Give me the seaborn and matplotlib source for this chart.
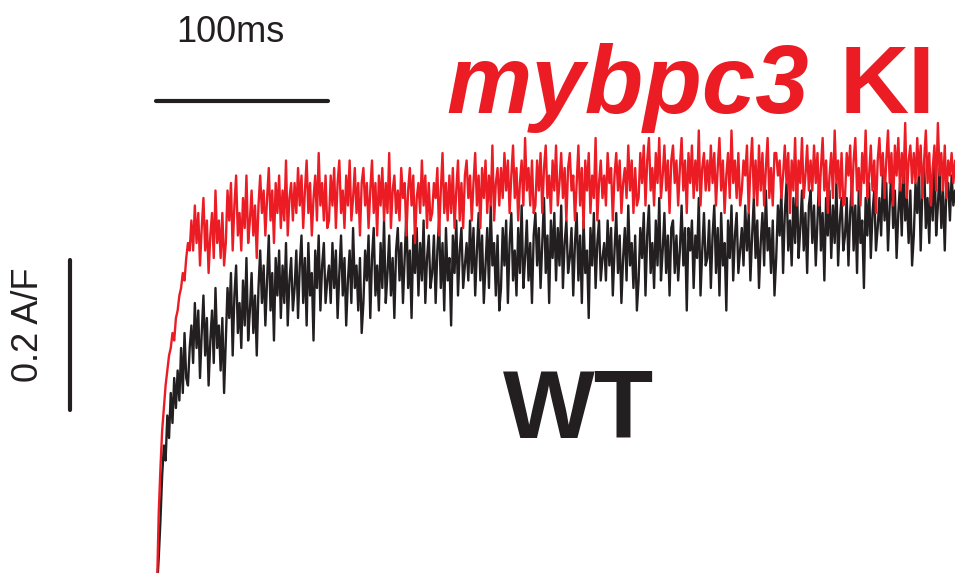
import numpy as np
import pandas as pd
import matplotlib
matplotlib.use("Agg")
import matplotlib.pyplot as plt
import seaborn as sns

# ---- data (A/F), sampled every 1 ms ----
sample_interval_ms = 1.0

ki_trace = [
    -0.02, 0.08, 0.14, 0.19, 0.22, 0.25, 0.27, 0.29, 0.30, 0.32, 0.31, 0.34, 0.35, 0.37, 0.38, 0.40, 0.39, 0.42, 0.44, 0.43,
    0.47, 0.43, 0.49, 0.44, 0.48, 0.41, 0.46, 0.50, 0.43, 0.47, 0.40, 0.45, 0.48, 0.42, 0.51, 0.44, 0.47, 0.42, 0.48, 0.41,
    0.44, 0.51, 0.47, 0.52, 0.43, 0.49, 0.53, 0.45, 0.48, 0.43, 0.50, 0.46, 0.53, 0.44, 0.47, 0.51, 0.45, 0.49, 0.42, 0.49,
    0.53, 0.48, 0.51, 0.45, 0.50, 0.54, 0.47, 0.51, 0.44, 0.52, 0.48, 0.53, 0.46, 0.51, 0.47, 0.55, 0.45, 0.50, 0.52, 0.47,
    0.52, 0.48, 0.54, 0.49, 0.53, 0.46, 0.51, 0.55, 0.48, 0.52, 0.45, 0.50, 0.53, 0.47, 0.56, 0.49, 0.52, 0.47, 0.53, 0.46,
    0.47, 0.53, 0.49, 0.54, 0.46, 0.52, 0.55, 0.48, 0.51, 0.46, 0.53, 0.49, 0.55, 0.47, 0.50, 0.54, 0.48, 0.52, 0.45, 0.52,
    0.54, 0.49, 0.52, 0.46, 0.51, 0.55, 0.48, 0.52, 0.45, 0.53, 0.49, 0.54, 0.47, 0.52, 0.48, 0.56, 0.46, 0.51, 0.53, 0.48,
    0.51, 0.47, 0.54, 0.50, 0.52, 0.45, 0.51, 0.54, 0.49, 0.53, 0.44, 0.50, 0.52, 0.48, 0.55, 0.49, 0.53, 0.46, 0.52, 0.47,
    0.48, 0.52, 0.50, 0.54, 0.45, 0.51, 0.56, 0.48, 0.52, 0.47, 0.53, 0.48, 0.54, 0.46, 0.51, 0.55, 0.47, 0.52, 0.46, 0.53,
    0.55, 0.50, 0.53, 0.47, 0.52, 0.56, 0.49, 0.53, 0.46, 0.54, 0.50, 0.55, 0.48, 0.53, 0.49, 0.57, 0.47, 0.52, 0.54, 0.49,
    0.54, 0.50, 0.56, 0.51, 0.55, 0.48, 0.53, 0.57, 0.50, 0.54, 0.47, 0.52, 0.55, 0.49, 0.58, 0.51, 0.54, 0.49, 0.55, 0.48,
    0.49, 0.55, 0.51, 0.56, 0.48, 0.54, 0.57, 0.50, 0.53, 0.48, 0.55, 0.51, 0.57, 0.49, 0.52, 0.56, 0.50, 0.54, 0.47, 0.54,
    0.56, 0.51, 0.53, 0.47, 0.52, 0.57, 0.49, 0.54, 0.46, 0.55, 0.51, 0.56, 0.48, 0.53, 0.50, 0.58, 0.47, 0.52, 0.55, 0.50,
    0.53, 0.49, 0.56, 0.52, 0.54, 0.47, 0.53, 0.56, 0.51, 0.55, 0.48, 0.52, 0.54, 0.50, 0.57, 0.51, 0.55, 0.48, 0.54, 0.49,
    0.50, 0.56, 0.52, 0.57, 0.49, 0.55, 0.58, 0.51, 0.54, 0.49, 0.56, 0.52, 0.58, 0.50, 0.53, 0.57, 0.51, 0.55, 0.48, 0.55,
    0.57, 0.52, 0.55, 0.49, 0.54, 0.58, 0.51, 0.55, 0.48, 0.56, 0.52, 0.57, 0.50, 0.55, 0.51, 0.59, 0.49, 0.54, 0.56, 0.51,
    0.55, 0.51, 0.57, 0.52, 0.56, 0.49, 0.54, 0.58, 0.51, 0.55, 0.48, 0.53, 0.56, 0.50, 0.59, 0.52, 0.55, 0.50, 0.56, 0.49,
    0.51, 0.55, 0.53, 0.57, 0.48, 0.54, 0.58, 0.50, 0.55, 0.49, 0.57, 0.51, 0.56, 0.49, 0.54, 0.58, 0.50, 0.54, 0.49, 0.56,
    0.56, 0.53, 0.55, 0.50, 0.53, 0.57, 0.52, 0.56, 0.48, 0.55, 0.51, 0.58, 0.49, 0.55, 0.52, 0.58, 0.50, 0.53, 0.57, 0.51,
    0.55, 0.51, 0.57, 0.52, 0.56, 0.49, 0.54, 0.58, 0.51, 0.55, 0.48, 0.53, 0.56, 0.50, 0.59, 0.52, 0.55, 0.50, 0.56, 0.49,
    0.50, 0.56, 0.53, 0.57, 0.49, 0.55, 0.58, 0.51, 0.54, 0.49, 0.56, 0.52, 0.59, 0.50, 0.53, 0.57, 0.51, 0.55, 0.48, 0.55,
    0.58, 0.53, 0.56, 0.50, 0.55, 0.59, 0.52, 0.56, 0.49, 0.57, 0.53, 0.58, 0.51, 0.56, 0.52, 0.60, 0.50, 0.55, 0.57, 0.52,
    0.56, 0.52, 0.58, 0.53, 0.57, 0.50, 0.55, 0.59, 0.52, 0.56, 0.49, 0.54, 0.57, 0.51, 0.60, 0.53, 0.56, 0.51, 0.57, 0.50,
    0.55, 0.53, 0.56, 0.52, 0.55,
]

wt_trace = [
    -0.02, 0.02, 0.07, 0.13, 0.17, 0.15, 0.21, 0.18, 0.24, 0.20, 0.26, 0.22, 0.27, 0.23, 0.30, 0.24, 0.32, 0.26, 0.25, 0.30,
    0.33, 0.28, 0.36, 0.30, 0.35, 0.26, 0.32, 0.37, 0.29, 0.34, 0.25, 0.31, 0.35, 0.28, 0.38, 0.30, 0.33, 0.27, 0.34, 0.24,
    0.31, 0.38, 0.34, 0.40, 0.29, 0.37, 0.41, 0.32, 0.36, 0.30, 0.39, 0.33, 0.42, 0.31, 0.35, 0.40, 0.32, 0.37, 0.29, 0.38,
    0.43, 0.36, 0.41, 0.33, 0.39, 0.45, 0.35, 0.40, 0.31, 0.42, 0.37, 0.43, 0.34, 0.41, 0.36, 0.44, 0.33, 0.39, 0.42, 0.35,
    0.38, 0.43, 0.34, 0.41, 0.45, 0.36, 0.42, 0.33, 0.44, 0.37, 0.40, 0.31, 0.43, 0.38, 0.45, 0.35, 0.41, 0.44, 0.36, 0.39,
    0.41, 0.36, 0.44, 0.38, 0.43, 0.34, 0.40, 0.45, 0.37, 0.42, 0.33, 0.39, 0.43, 0.36, 0.46, 0.38, 0.41, 0.35, 0.42, 0.32,
    0.36, 0.43, 0.39, 0.45, 0.34, 0.42, 0.46, 0.37, 0.41, 0.35, 0.44, 0.38, 0.47, 0.36, 0.40, 0.45, 0.37, 0.42, 0.34, 0.43,
    0.46, 0.39, 0.44, 0.36, 0.42, 0.48, 0.38, 0.43, 0.34, 0.45, 0.40, 0.46, 0.37, 0.44, 0.39, 0.47, 0.36, 0.42, 0.45, 0.38,
    0.40, 0.45, 0.36, 0.43, 0.47, 0.38, 0.44, 0.35, 0.46, 0.39, 0.42, 0.33, 0.45, 0.40, 0.47, 0.37, 0.43, 0.46, 0.38, 0.41,
    0.44, 0.39, 0.47, 0.40, 0.46, 0.37, 0.43, 0.48, 0.39, 0.45, 0.36, 0.41, 0.46, 0.38, 0.49, 0.41, 0.44, 0.37, 0.45, 0.35,
    0.38, 0.46, 0.41, 0.47, 0.36, 0.44, 0.48, 0.39, 0.43, 0.37, 0.46, 0.40, 0.49, 0.38, 0.42, 0.47, 0.39, 0.44, 0.36, 0.45,
    0.48, 0.41, 0.46, 0.38, 0.44, 0.50, 0.40, 0.45, 0.36, 0.47, 0.42, 0.48, 0.39, 0.46, 0.41, 0.49, 0.38, 0.44, 0.47, 0.40,
    0.42, 0.46, 0.37, 0.44, 0.48, 0.39, 0.45, 0.36, 0.47, 0.40, 0.43, 0.34, 0.46, 0.41, 0.48, 0.38, 0.44, 0.47, 0.39, 0.42,
    0.44, 0.39, 0.47, 0.41, 0.46, 0.37, 0.43, 0.48, 0.40, 0.45, 0.36, 0.42, 0.46, 0.39, 0.49, 0.41, 0.44, 0.38, 0.45, 0.35,
    0.39, 0.46, 0.42, 0.48, 0.37, 0.45, 0.49, 0.40, 0.44, 0.38, 0.47, 0.41, 0.50, 0.39, 0.43, 0.48, 0.40, 0.45, 0.37, 0.46,
    0.47, 0.40, 0.45, 0.39, 0.43, 0.49, 0.41, 0.46, 0.35, 0.46, 0.43, 0.47, 0.38, 0.45, 0.42, 0.50, 0.37, 0.43, 0.48, 0.41,
    0.42, 0.47, 0.38, 0.45, 0.49, 0.40, 0.46, 0.37, 0.48, 0.41, 0.44, 0.35, 0.47, 0.42, 0.49, 0.39, 0.45, 0.48, 0.40, 0.43,
    0.46, 0.41, 0.49, 0.43, 0.48, 0.39, 0.45, 0.50, 0.42, 0.47, 0.38, 0.44, 0.48, 0.41, 0.51, 0.43, 0.46, 0.40, 0.47, 0.37,
    0.42, 0.49, 0.45, 0.51, 0.40, 0.48, 0.52, 0.43, 0.47, 0.41, 0.50, 0.44, 0.53, 0.42, 0.46, 0.51, 0.43, 0.48, 0.40, 0.49,
    0.51, 0.44, 0.49, 0.41, 0.47, 0.53, 0.43, 0.48, 0.39, 0.50, 0.45, 0.51, 0.42, 0.49, 0.44, 0.52, 0.41, 0.47, 0.50, 0.43,
    0.45, 0.50, 0.41, 0.48, 0.52, 0.43, 0.49, 0.40, 0.51, 0.44, 0.47, 0.38, 0.50, 0.45, 0.52, 0.42, 0.48, 0.51, 0.43, 0.46,
    0.50, 0.45, 0.53, 0.47, 0.52, 0.43, 0.49, 0.54, 0.46, 0.51, 0.42, 0.48, 0.52, 0.45, 0.55, 0.47, 0.50, 0.44, 0.51, 0.41,
    0.45, 0.52, 0.48, 0.54, 0.43, 0.51, 0.55, 0.46, 0.50, 0.44, 0.53, 0.47, 0.56, 0.45, 0.49, 0.54, 0.46, 0.51, 0.43, 0.52,
    0.52, 0.47, 0.53, 0.49, 0.51,
]

group_labels = ["mybpc3 KI", "WT"]
group_colors = ["#ec1c24", "#231f20"]

scale_time_ms = 100
scale_amp = 0.2
scale_time_label = "100ms"
scale_amp_label = "0.2 A/F"

# ---- build long table ----
frames = []
for label, trace in zip(group_labels, [ki_trace, wt_trace]):
    n = len(trace)
    frames.append(pd.DataFrame({
        "time": np.arange(n) * sample_interval_ms,
        "signal": trace,
        "group": label,
    }))
df = pd.concat(frames, ignore_index=True)

sns.set_style("white")
plt.rcParams["font.family"] = ["Liberation Sans", "DejaVu Sans"]

W, H = 955, 573
fig = plt.figure(figsize=(W / 100, H / 100), dpi=100)
ax = fig.add_axes([0, 0, 1, 1])

# draw WT first then KI on top
sns.lineplot(data=df[df.group == "WT"], x="time", y="signal", color=group_colors[1],
             estimator=None, errorbar=None, linewidth=1.7, ax=ax, legend=False)
sns.lineplot(data=df[df.group == "mybpc3 KI"], x="time", y="signal", color=group_colors[0],
             estimator=None, errorbar=None, linewidth=1.7, ax=ax, legend=False)

# axis mapping: x px = 157 + 1.72*t ; y px = 573 - 750*v
px_per_ms = 1.72
px_per_unit = 750.0
x0_px = 157
ax.set_xlim(-x0_px / px_per_ms, (W - x0_px) / px_per_ms)
ax.set_ylim(0, H / px_per_unit)
ax.axis("off")

def dx(px):
    return (px - x0_px) / px_per_ms

def dy(py):
    return (H - py) / px_per_unit

# scale bars
ax.plot([dx(156), dx(156) + scale_time_ms], [dy(101), dy(101)], color="#231f20",
        lw=3.0, solid_capstyle="round")
ax.plot([dx(70), dx(70)], [dy(410), dy(410) + scale_amp], color="#231f20",
        lw=3.0, solid_capstyle="round")

ax.text(dx(230), dy(42), scale_time_label, ha="center", va="baseline",
        fontsize=26, color="#231f20")
ax.text(dx(28), dy(325), scale_amp_label, ha="center", va="center", rotation=90,
        fontsize=26, color="#231f20", rotation_mode="anchor")

# labels
ax.text(dx(446), dy(113), "mybpc3", ha="left", va="baseline", fontsize=69,
        fontweight="bold", fontstyle="italic", color=group_colors[0])
ax.text(dx(840), dy(113), "KI", ha="left", va="baseline", fontsize=69,
        fontweight="bold", color=group_colors[0])
ax.text(dx(503), dy(438), "WT", ha="left", va="baseline", fontsize=70,
        fontweight="bold", color=group_colors[1])

fig.savefig("out.png", dpi=100)
